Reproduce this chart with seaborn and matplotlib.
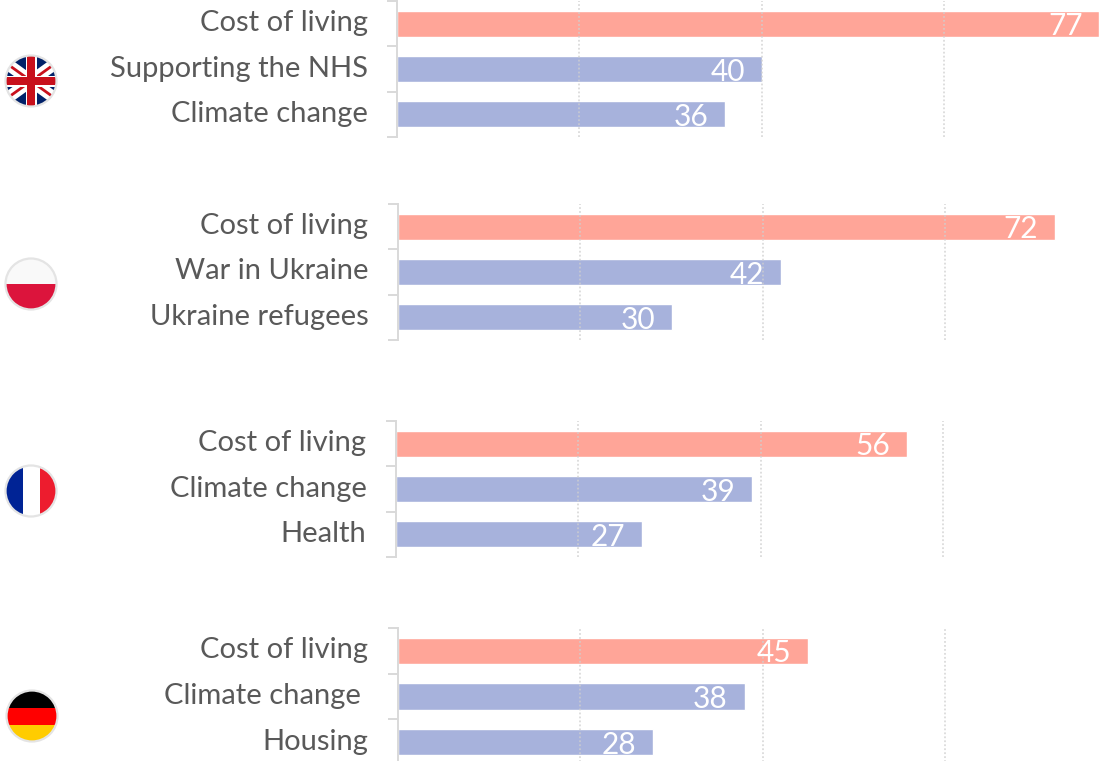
import matplotlib
matplotlib.use("Agg")
import matplotlib.pyplot as plt
from matplotlib.patches import Circle, Rectangle
from matplotlib.ticker import FixedLocator
from matplotlib.transforms import ScaledTranslation
import pandas as pd
import seaborn as sns

uk_topics = ["Cost of living", "Supporting the NHS", "Climate change"]
uk_values = [77, 40, 36]
pl_topics = ["Cost of living", "War in Ukraine", "Ukraine refugees"]
pl_values = [72, 42, 30]
fr_topics = ["Cost of living", "Climate change", "Health"]
fr_values = [56, 39, 27]
de_topics = ["Cost of living", "Climate change ", "Housing"]
de_values = [45, 38, 28]

W, H = 1099, 761
RED, BLUE, TXT, LINE = "#FFA598", "#A7B2DC", "#595959", "#D9D9D9"
PX_PER_UNIT = 9.12

sns.set_theme(style="white")
plt.rcParams["font.family"] = ["Lato", "DejaVu Sans"]

fig = plt.figure(figsize=(W / 100, H / 100), dpi=100, facecolor="white")


def panel(topics, values, x0, ytop, ybot):
    ax = fig.add_axes([x0 / W, 1 - ybot / H, (W - x0) / W, (ybot - ytop) / H])
    df = pd.DataFrame({"topic": topics, "value": values, "kind": ["top", "other", "other"]})
    sns.barplot(data=df, y="topic", x="value", hue="kind", dodge=False, legend=False,
                palette={"top": RED, "other": BLUE}, width=0.58, ax=ax, saturation=1, zorder=2)
    ax.set_xlim(0, (W - x0) / PX_PER_UNIT)
    ax.set_ylim(2.5, -0.5)
    ax.set_xlabel("")
    ax.set_ylabel("")
    ax.xaxis.set_major_locator(FixedLocator([20, 40, 60]))
    ax.grid(axis="x", color="#CFCFCF", linestyle=(0, (1, 1.2)), linewidth=1.3, alpha=0.75, zorder=3)
    ax.set_axisbelow(False)
    ax.tick_params(axis="x", length=0, labelbottom=False)
    ax.set_yticks([0, 1, 2])
    ax.set_yticklabels(topics)
    ax.set_yticks([-0.5, 0.5, 1.5, 2.5], minor=True)
    ax.tick_params(axis="y", which="major", length=0, pad=29.5 * 0.72,
                   labelsize=21, labelcolor=TXT)
    ax.tick_params(axis="y", which="minor", length=7.5, width=1.4, color=LINE, left=True)
    shift = ScaledTranslation(0, 3 / 100, fig.dpi_scale_trans)
    for lab in ax.get_yticklabels():
        lab.set_transform(lab.get_transform() + shift)
    for s in ["top", "right", "bottom"]:
        ax.spines[s].set_visible(False)
    ax.spines["left"].set_color(LINE)
    ax.spines["left"].set_linewidth(1.4)
    for i, v in enumerate(values):
        ax.annotate(str(v), (v, i), xytext=(-12, -1.9), textcoords="offset points",
                    ha="right", va="center", color="white", fontsize=21.5, zorder=5)
    return ax


panel(uk_topics, uk_values, 397, 1, 137)
panel(pl_topics, pl_values, 398, 204, 340)
panel(fr_topics, fr_values, 396, 421, 557)
panel(de_topics, de_values, 398, 628, 765)


def flag(cx, cy, r=25.5):
    side = 2 * r + 4
    ax = fig.add_axes([(cx - side / 2) / W, 1 - (cy + side / 2) / H, side / W, side / H])
    ax.set_xlim(-side / 2, side / 2)
    ax.set_ylim(-side / 2, side / 2)
    ax.axis("off")
    clip = Circle((0, 0), r, transform=ax.transData)
    return ax, clip, r


def finish(ax, r):
    ax.add_patch(Circle((0, 0), r, facecolor="none", edgecolor="#E4E4E4", linewidth=1.6, zorder=20))


def bands(ax, clip, r, rows):
    for top, bot, col in rows:
        p = Rectangle((-r, bot), 2 * r, top - bot, facecolor=col, edgecolor="none")
        ax.add_patch(p)
        p.set_clip_path(clip)


# United Kingdom
ax, clip, r = flag(31, 81)
NAVY, CROSS = "#012169", "#C8101C"
p = Rectangle((-r, -r), 2 * r, 2 * r, facecolor=NAVY, edgecolor="none")
ax.add_patch(p)
p.set_clip_path(clip)
for a, b in [((-r, -0.72 * r), (r, 0.72 * r)), ((-r, 0.72 * r), (r, -0.72 * r))]:
    l, = ax.plot(*zip(a, b), color="white", lw=8.5, solid_capstyle="butt")
    l.set_clip_path(clip)
    l, = ax.plot(*zip(a, b), color=CROSS, lw=2.0, solid_capstyle="butt")
    l.set_clip_path(clip)
for rect, col in [((-5.5, -r, 11, 2 * r), "white"), ((-r, -5.5, 2 * r, 11), "white"),
                  ((-3.6, -r, 7.2, 2 * r), CROSS), ((-r, -3.6, 2 * r, 7.2), CROSS)]:
    p = Rectangle(rect[:2], rect[2], rect[3], facecolor=col, edgecolor="none", zorder=5)
    ax.add_patch(p)
    p.set_clip_path(clip)
finish(ax, r)

# Poland
ax, clip, r = flag(31, 284)
bands(ax, clip, r, [(r, 0, "#F9F9F9"), (0, -r, "#DC143C")])
finish(ax, r)

# France
ax, clip, r = flag(31, 491)
for x, w, col in [(-r, 2 * r / 3, "#002395"), (-r / 3, 2 * r / 3, "#FFFFFF"), (r / 3, 2 * r / 3, "#ED1C2E")]:
    p = Rectangle((x, -r), w, 2 * r, facecolor=col, edgecolor="none")
    ax.add_patch(p)
    p.set_clip_path(clip)
finish(ax, r)

# Germany
ax, clip, r = flag(32, 716)
bands(ax, clip, r, [(r, r / 3, "#000000"), (r / 3, -r / 3, "#FF0000"), (-r / 3, -r, "#FFCC00")])
finish(ax, r)

fig.savefig("out.png", dpi=100, facecolor="white")
